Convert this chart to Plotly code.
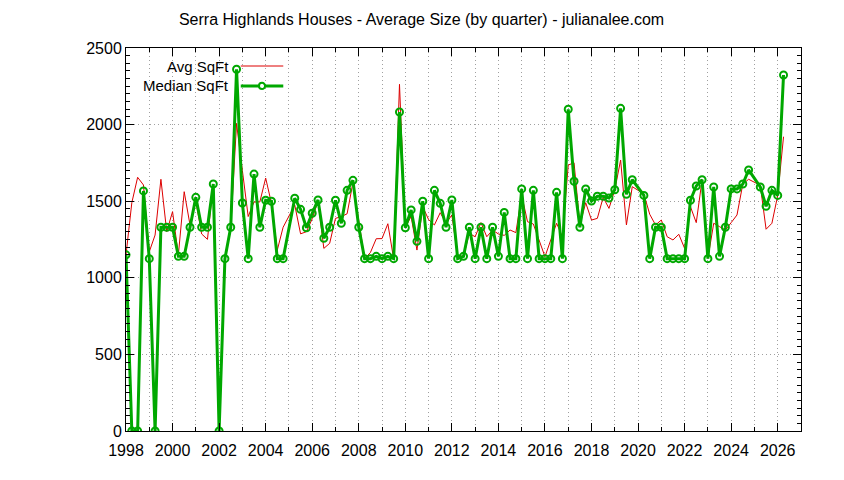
import plotly.graph_objects as go

# Quarters from 1998 Q1 to 2026 Q2 (None = no data that quarter)
first_year = 1998
n_quarters = 114
quarters = [f"{first_year + k // 4}Q{k % 4 + 1}" for k in range(n_quarters)]

avg_sqft = [
    1150, 1490, 1656, 1606, 1170, 1279, 1643, 1301, 1432, 1149,
    1562, 1345, 1499, 1286, 1251, 1612, 0, 1140, 1325, 2008,
    1700, 1400, 1495, 1495, 1651, 1486, 1181, 1330, None, 1475,
    1287, 1301, 1385, 1500, 1192, 1225, 1388, 1399, 1418, 1622,
    1370, 1125, 1165, 1255, 1256, 1353, 1123, 2263, 1330, 1400,
    1181, 1464, 1380, 1345, 1425, 1356, 1410, 1140, 1142, 1290,
    1268, 1360, 1268, 1312, 1286, 1277, 1312, 1295, 1540, 1366,
    1351, 1247, 1138, 1247, 1356, 1268, 1736, 1751, 1345, 1490,
    1377, 1388, 1525, 1453, 1573, 1769, 1345, 1595, None, 1547,
    1415, 1345, 1377, 1268, 1247, 1284, 1192, 1464, 1360, 1640,
    1127, 1356, 1334, 1312, 1360, 1410, 1612, 1643, None, 1604,
    1317, 1356, 1538, 1921,
]

median_sqft = [
    1150, 0, 0, 1567, 1125, 0, 1330, 1330, 1330, 1140,
    1140, 1330, 1525, 1330, 1330, 1612, 0, 1125, 1330, 2361,
    1488, 1125, 1677, 1330, 1506, 1500, 1125, 1125, None, 1519,
    1447, 1327, 1421, 1508, 1258, 1330, 1506, 1356, 1571, 1636,
    1330, 1125, 1125, 1140, 1125, 1140, 1125, 2082, 1327, 1443,
    1238, 1500, 1125, 1571, 1486, 1330, 1508, 1125, 1140, 1330,
    1125, 1330, 1125, 1330, 1140, 1427, 1125, 1125, 1580, 1125,
    1571, 1125, 1125, 1125, 1558, 1125, 2100, 1630, 1330, 1580,
    1501, 1532, 1532, 1521, 1575, 2106, 1545, 1640, None, 1538,
    1125, 1330, 1330, 1125, 1125, 1125, 1125, 1506, 1599, 1640,
    1125, 1593, 1140, 1330, 1580, 1580, 1612, 1704, None, 1593,
    1467, 1571, 1538, 2324,
]

x_tick_years = list(range(1998, 2027, 2))
y_ticks = [0, 500, 1000, 1500, 2000, 2500]

title_text = "Serra Highlands Houses - Average Size (by quarter) - julianalee.com"
series_names = ["Avg SqFt", "Median SqFt"]

RED = "#dd0000"
GREEN = "#00a800"
GRID = "#a0a0a0"
FONT = "Liberation Sans, Arial, sans-serif"
FS = 16
KEY_FS = 15


def to_decimal_year(label):
    y, q = label.split("Q")
    return int(y) + (int(q) - 1) / 4.0


def present(values):
    xs, ys = [], []
    for lab, v in zip(quarters, values):
        if v is not None:
            xs.append(to_decimal_year(lab))
            ys.append(v)
    return xs, ys


ax, ay = present(avg_sqft)
mx, my = present(median_sqft)

fig = go.Figure()
fig.add_trace(go.Scatter(
    x=ax, y=ay, mode="lines", name=series_names[0],
    line=dict(color=RED, width=1), showlegend=False,
))
fig.add_trace(go.Scatter(
    x=mx, y=my, mode="lines+markers", name=series_names[1],
    line=dict(color=GREEN, width=3),
    marker=dict(symbol="circle-open", size=7, color=GREEN, line=dict(width=2, color=GREEN)),
    showlegend=False,
))

DOT = "1px,3px"

fig.update_xaxes(
    range=[1998, 2027], tickmode="array", tickvals=x_tick_years,
    ticktext=[str(v) for v in x_tick_years],
    ticks="inside", ticklen=8, tickwidth=1, tickcolor="black",
    ticklabelstandoff=5,
    showline=True, linecolor="black", linewidth=1, mirror="ticks",
    zeroline=False,
    showgrid=True, gridcolor=GRID, griddash=DOT, gridwidth=1,
    minor=dict(dtick=1, tick0=1998, ticks="inside", ticklen=4, tickcolor="black",
               showgrid=True, gridcolor=GRID, griddash=DOT, gridwidth=1),
    tickfont=dict(family=FONT, size=FS, color="black"),
)
fig.update_yaxes(
    range=[0, 2500], tickmode="array", tickvals=y_ticks,
    ticks="inside", ticklen=8, tickwidth=1, tickcolor="black",
    showline=True, linecolor="black", linewidth=1, mirror="ticks",
    zeroline=False,
    showgrid=True, gridcolor=GRID, griddash=DOT, gridwidth=1,
    minor=dict(dtick=50, tick0=0, ticks="inside", ticklen=4, tickcolor="black", showgrid=False),
    tickfont=dict(family=FONT, size=FS, color="black"),
)

# gnuplot-style key: text right-aligned, sample to its right
key_rows = [0.953, 0.901]
text_x = 0.155
sample_x0, sample_x1 = 0.170, 0.233
for name, yk, col, w in zip(series_names, key_rows, [RED, GREEN], [1, 3]):
    fig.add_annotation(x=text_x, y=yk, xref="paper", yref="paper", text=name,
                       showarrow=False, xanchor="right", yanchor="middle",
                       font=dict(family=FONT, size=KEY_FS, color="black"))
    fig.add_shape(type="line", xref="paper", yref="paper", x0=sample_x0, x1=sample_x1,
                  y0=yk, y1=yk, line=dict(color=col, width=w))
mk_x = (sample_x0 + sample_x1) / 2
fig.add_shape(type="circle", xref="paper", yref="paper",
              x0=mk_x - 0.0045, x1=mk_x + 0.0045, y0=key_rows[1] - 0.008, y1=key_rows[1] + 0.008,
              line=dict(color=GREEN, width=2), fillcolor="white")

fig.update_layout(
    width=844, height=480,
    margin=dict(l=118, r=51, t=40, b=57),
    paper_bgcolor="white", plot_bgcolor="white",
    title=dict(text=title_text, x=0.49, xanchor="center", y=1 - 11 / 480, yanchor="middle",
               font=dict(family=FONT, size=FS, color="black")),
    showlegend=False,
)

fig.write_html("out.html")
